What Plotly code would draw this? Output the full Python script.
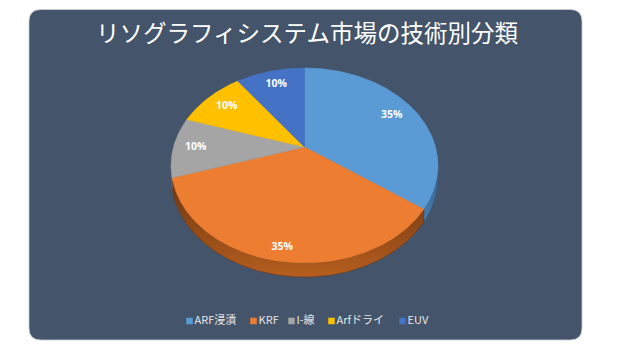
import numpy as np
import plotly.graph_objects as go

# ---- data ----
labels = ["ARF浸漬", "KRF", "I-線", "Arfドライ", "EUV"]
values = [35, 35, 10, 10, 10]
title_text = "リソグラフィシステム市場の技術別分類"

# ---- styles ----
top_colors = ["#5B9BD5", "#ED7D31", "#A5A5A5", "#FFC000", "#4472C4"]
side_colors = [("#4A80B3", "#2F5A82"), ("#B65E1F", "#6A3410"), ("#8A8A8A", "#5E5E5E"),
               ("#C99700", "#8A6800"), ("#355DA3", "#22407A")]
label_r = [0.8, 0.9, 0.83, 0.8, 0.8]
legend_x = [189.5, 253.5, 291.5, 331.5, 402.5]
LEGEND_Y = 321

# projection of the tilted pie (pixel space, y downward)
CX, CY, SX, SY, K, DEPTH = 304.5, 147.0, 131.0, 94.0, 0.19, 14.0


def proj(theta_deg, r=1.0, drop=0.0):
    t = np.radians(theta_deg)
    u = r * np.sin(t)
    v = r * np.cos(t)
    den = 1 + K * v
    x = CX + SX * u / den
    y = CY - SY * v / den + drop * (1 - K) / den
    return x, y


total = float(sum(values))
bounds = np.concatenate([[0], np.cumsum(values)]) / total * 360.0

fig = go.Figure()

# side walls (front visible rim)
vis_lo = np.degrees(np.arccos(-K))
vis_hi = 360 - vis_lo
for i in range(len(values)):
    a, b = bounds[i], bounds[i + 1]
    lo, hi = max(a, vis_lo), min(b, vis_hi)
    if hi <= lo:
        continue
    th = np.linspace(lo, hi, max(int((hi - lo) * 2), 4))
    xt, yt = proj(th)
    xb, yb = proj(th[::-1], drop=DEPTH)
    xs = np.concatenate([xt, xb, xt[:1]])
    ys = np.concatenate([yt, yb, yt[:1]])
    fig.add_trace(go.Scatter(
        x=xs, y=ys, mode="lines", fill="toself",
        fillgradient=dict(type="vertical",
                          colorscale=[[0, side_colors[i][0]], [1, side_colors[i][1]]]),
        line=dict(width=0.5, color=side_colors[i][1]),
        hoverinfo="skip", showlegend=False))

# top faces
for i in range(len(values)):
    a, b = bounds[i], bounds[i + 1]
    th = np.linspace(a, b, max(int((b - a) * 2), 4))
    xa, ya = proj(th)
    xs = np.concatenate([[CX], xa, [CX]])
    ys = np.concatenate([[CY], ya, [CY]])
    fig.add_trace(go.Scatter(
        x=xs, y=ys, mode="lines", fill="toself", fillcolor=top_colors[i],
        line=dict(width=0.6, color=top_colors[i]),
        name=labels[i], hoverinfo="skip", showlegend=False))

# percentage labels
mids = (bounds[:-1] + bounds[1:]) / 2
lx, ly = [], []
for i, m in enumerate(mids):
    x, y = proj(m, r=label_r[i])
    lx.append(x)
    ly.append(y)
fig.add_trace(go.Scatter(
    x=lx, y=ly, mode="text",
    text=[f"{v / total:.0%}" for v in values],
    textfont=dict(family="Open Sans", size=10.5, color="white", weight="bold"),
    hoverinfo="skip", showlegend=False))

# custom legend
fig.add_trace(go.Scatter(
    x=legend_x, y=[LEGEND_Y] * len(labels), mode="markers+text",
    marker=dict(symbol="square", size=6.5, color=top_colors),
    text=labels, textposition="middle right",
    textfont=dict(family="Noto Sans CJK JP", size=11, color="#E6E6E6"),
    hoverinfo="skip", showlegend=False))

card_path = ("M 41,9.5 L 570,9.5 Q 582,9.5 582,21.5 L 582,328 Q 582,340 570,340 "
             "L 41,340 Q 29,340 29,328 L 29,21.5 Q 29,9.5 41,9.5 Z")

fig.update_layout(
    width=620, height=354, autosize=False,
    margin=dict(l=0, r=0, t=0, b=0),
    paper_bgcolor="white", plot_bgcolor="rgba(0,0,0,0)",
    xaxis=dict(range=[0, 620], visible=False, fixedrange=True),
    yaxis=dict(range=[354, 0], visible=False, fixedrange=True),
    shapes=[dict(type="path", path=card_path, xref="x", yref="y",
                 fillcolor="#44546A", line=dict(width=0.8, color="#C9CED6"),
                 layer="below")],
    title=dict(text=title_text, x=307 / 620, xanchor="center",
               y=1 - 34 / 354, yanchor="middle",
               font=dict(family="Noto Sans CJK JP", size=23.5, color="white")),
)

fig.write_html("out.html")
